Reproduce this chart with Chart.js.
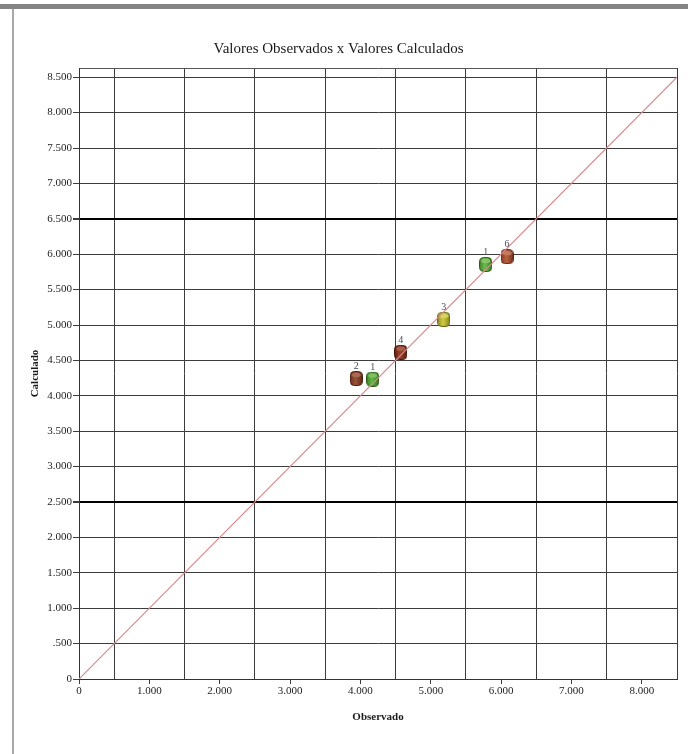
<!DOCTYPE html>
<html>
<head>
<meta charset="utf-8">
<script src="https://cdn.jsdelivr.net/npm/chart.js@4"></script>
<style>
    html, body { margin: 0; padding: 0; background: #fff; }
    #wrap { position: relative; width: 688px; height: 754px; overflow: hidden; }
    #wrap canvas { position: absolute; left: 0; top: 0; }
    .frame-top { position: absolute; left: 0; top: 4px; width: 688px; height: 5px; background: #858585; }
    .frame-left { position: absolute; left: 12px; top: 9px; width: 2px; height: 745px; background: #a8a8a8; }
</style>
</head>
<body>
<div id="wrap">
    <canvas id="chart" width="688" height="754"></canvas>
    <div class="frame-top"></div>
    <div class="frame-left"></div>
</div>
<script>
// pontos observados x calculados
var pointIds = ['2', '1', '4', '3', '1', '6'];
var observed = [3940, 4175, 4575, 5185, 5780, 6085];
var calculated = [4245, 4235, 4615, 5080, 5855, 5965];
var pointColors = ['#8e3b1e', '#4fae2c', '#8a2b12', '#c9c62a', '#5bb335', '#b04e28'];

// linha de referencia (y = x)
var lineX = [0, 8630];
var lineY = [0, 8630];

// eixos
var xLabelTicks = [0, 1000, 2000, 3000, 4000, 5000, 6000, 7000, 8000];
var xLabels = ['0', '1.000', '2.000', '3.000', '4.000', '5.000', '6.000', '7.000', '8.000'];
var xGridTicks = [500, 1500, 2500, 3500, 4500, 5500, 6500, 7500, 8500];
var xMax = 8500;

var yTicks = [0, 500, 1000, 1500, 2000, 2500, 3000, 3500, 4000, 4500, 5000, 5500, 6000, 6500, 7000, 7500, 8000, 8500];
var yLabels = ['0', '.500', '1.000', '1.500', '2.000', '2.500', '3.000', '3.500', '4.000', '4.500', '5.000', '5.500', '6.000', '6.500', '7.000', '7.500', '8.000', '8.500'];
var yBoldLines = [2500, 6500];
var yMax = 8630;

function shade(hex, f) {
    var n = parseInt(hex.slice(1), 16);
    var r = (n >> 16) & 255, g = (n >> 8) & 255, b = n & 255;
    function c(v) { return Math.max(0, Math.min(255, Math.round(f < 0 ? v * (1 + f) : v + (255 - v) * f))); }
    return 'rgb(' + c(r) + ',' + c(g) + ',' + c(b) + ')';
}

// marcador tipo "cilindro" arredondado
function makeMarker(color) {
    var cv = document.createElement('canvas');
    cv.width = 13; cv.height = 15;
    var ctx = cv.getContext('2d');
    var w = 12, h = 14, r = 4, x = 0.5, y = 0.5;
    ctx.beginPath();
    ctx.moveTo(x + r, y);
    ctx.lineTo(x + w - r, y);
    ctx.quadraticCurveTo(x + w, y, x + w, y + r);
    ctx.lineTo(x + w, y + h - r);
    ctx.quadraticCurveTo(x + w, y + h, x + w - r, y + h);
    ctx.lineTo(x + r, y + h);
    ctx.quadraticCurveTo(x, y + h, x, y + h - r);
    ctx.lineTo(x, y + r);
    ctx.quadraticCurveTo(x, y, x + r, y);
    ctx.closePath();
    var grad = ctx.createLinearGradient(0, 0, 13, 0);
    grad.addColorStop(0, shade(color, -0.25));
    grad.addColorStop(0.45, shade(color, 0.12));
    grad.addColorStop(1, shade(color, -0.35));
    ctx.fillStyle = grad;
    ctx.fill();
    ctx.strokeStyle = shade(color, -0.5);
    ctx.lineWidth = 1;
    ctx.stroke();
    ctx.beginPath();
    ctx.ellipse(6.5, 4, 4.5, 2.2, 0, 0, Math.PI * 2);
    ctx.fillStyle = shade(color, 0.25);
    ctx.fill();
    return cv;
}

var pointData = observed.map(function(v, i) { return { x: v, y: calculated[i] }; });
var lineData = lineX.map(function(v, i) { return { x: v, y: lineY[i] }; });

var pointLabels = {
    id: 'pointLabels',
    afterDatasetsDraw: function(chart) {
        var meta = chart.getDatasetMeta(1);
        var ctx = chart.ctx;
        ctx.save();
        ctx.font = '10px "Liberation Serif", serif';
        ctx.fillStyle = '#4a4a5a';
        ctx.textAlign = 'center';
        ctx.textBaseline = 'bottom';
        meta.data.forEach(function(el, i) {
            ctx.fillText(pointIds[i], el.x, el.y - 7);
        });
        ctx.restore();
    }
};

var serif = '"Liberation Serif", "DejaVu Serif", serif';

new Chart(document.getElementById('chart'), {
    type: 'scatter',
    data: {
        datasets: [{
            type: 'line',
            data: lineData,
            borderColor: '#d98a8e',
            borderWidth: 1.2,
            pointRadius: 0,
            fill: false
        }, {
            data: pointData,
            pointStyle: pointColors.map(makeMarker),
            pointRadius: 6,
            backgroundColor: pointColors
        }]
    },
    options: {
        responsive: false,
        animation: false,
        layout: { padding: { top: 30, right: 11, left: 0, bottom: 0 } },
        plugins: {
            legend: { display: false },
            tooltip: { enabled: false },
            title: {
                display: true,
                text: 'Valores Observados x Valores Calculados',
                color: '#1a1a1a',
                font: { family: serif, size: 15, weight: 'normal' },
                padding: { top: 10, bottom: 10 }
            }
        },
        scales: {
            x: {
                type: 'linear',
                min: 0,
                max: xMax,
                afterBuildTicks: function(scale) {
                    var all = xLabelTicks.concat(xGridTicks).sort(function(a, b) { return a - b; });
                    scale.ticks = all.map(function(v) { return { value: v }; });
                },
                afterFit: function(scale) { scale.height = 75; },
                ticks: {
                    autoSkip: false,
                    maxRotation: 0,
                    padding: 1,
                    color: '#222',
                    font: { family: serif, size: 11 },
                    callback: function(v) {
                        var i = xLabelTicks.indexOf(v);
                        return i >= 0 ? xLabels[i] : '';
                    }
                },
                grid: {
                    drawTicks: true,
                    tickLength: 5,
                    color: function(c) {
                        return c.tick && xGridTicks.indexOf(c.tick.value) >= 0 ? '#3c3c3c' : 'rgba(0,0,0,0)';
                    },
                    tickColor: function(c) {
                        return c.tick && xLabelTicks.indexOf(c.tick.value) >= 0 ? '#3c3c3c' : 'rgba(0,0,0,0)';
                    },
                    lineWidth: 1
                },
                border: { display: true, color: '#333', width: 1 },
                title: {
                    display: true,
                    text: 'Observado',
                    color: '#1a1a1a',
                    font: { family: serif, size: 11, weight: 'bold' },
                    padding: { top: 0, bottom: 30 }
                }
            },
            y: {
                type: 'linear',
                min: 0,
                max: yMax,
                afterBuildTicks: function(scale) {
                    scale.ticks = yTicks.concat([yMax]).map(function(v) { return { value: v }; });
                },
                afterFit: function(scale) { scale.width = 79; },
                ticks: {
                    autoSkip: false,
                    padding: 1,
                    color: '#222',
                    font: { family: serif, size: 11 },
                    callback: function(v) {
                        var i = yTicks.indexOf(v);
                        return i >= 0 ? yLabels[i] : '';
                    }
                },
                grid: {
                    drawTicks: true,
                    tickLength: 6,
                    color: function(c) {
                        if (!c.tick) return '#3c3c3c';
                        if (yBoldLines.indexOf(c.tick.value) >= 0) return '#000';
                        return c.tick.value === yMax ? '#555' : '#3c3c3c';
                    },
                    tickColor: function(c) {
                        return c.tick && c.tick.value === yMax ? 'rgba(0,0,0,0)' : '#3c3c3c';
                    },
                    lineWidth: function(c) {
                        return c.tick && yBoldLines.indexOf(c.tick.value) >= 0 ? 2 : 1;
                    }
                },
                border: { display: true, color: '#333', width: 1 },
                title: {
                    display: true,
                    text: 'Calculado',
                    color: '#1a1a1a',
                    font: { family: serif, size: 11, weight: 'bold' },
                    padding: { top: 29, bottom: 0 }
                }
            }
        }
    },
    plugins: [pointLabels]
});
</script>
</body>
</html>
